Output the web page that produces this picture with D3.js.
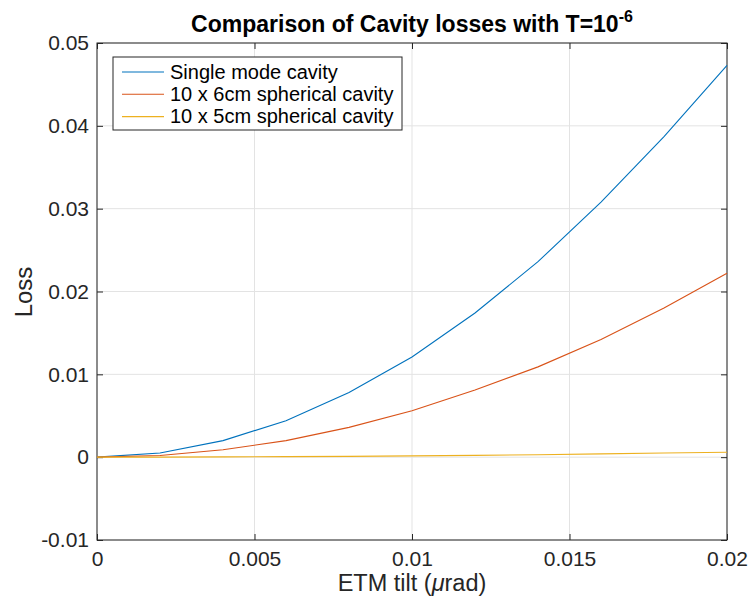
<!DOCTYPE html>
<html>
<head>
<meta charset="utf-8">
<script src="https://cdn.jsdelivr.net/npm/d3@7"></script>
<style>
  html, body { margin: 0; padding: 0; background: #fff; }
  svg text { font-family: "Liberation Sans", Arial, Helvetica, sans-serif; }
</style>
</head>
<body>
<svg id="chart" width="750" height="600"></svg>
<script>
// ETM tilt samples (µrad) and loss per cavity type
const tilt = [0, 0.002, 0.004, 0.006, 0.008, 0.010, 0.012, 0.014, 0.016, 0.018, 0.020];
const singleMode = [0, 0.0005, 0.0020, 0.0044, 0.0078, 0.0121, 0.0174, 0.0236, 0.0308, 0.0387, 0.0473];
const sph6cm = [0, 0.0002, 0.0009, 0.0020, 0.0036, 0.0056, 0.0081, 0.0109, 0.0142, 0.0180, 0.0222];
const sph5cm = [0, 0.00001, 0.00003, 0.00006, 0.0001, 0.00015, 0.00022, 0.0003, 0.0004, 0.0005, 0.0006];

const seriesNames = ["Single mode cavity", "10 x 6cm spherical cavity", "10 x 5cm spherical cavity"];
const seriesColors = ["#0072BD", "#D95319", "#EDB120"];

const xTicks = [0, 0.005, 0.01, 0.015, 0.02];
const xTickLabels = ["0", "0.005", "0.01", "0.015", "0.02"];
const yTicks = [-0.01, 0, 0.01, 0.02, 0.03, 0.04, 0.05];
const yTickLabels = ["-0.01", "0", "0.01", "0.02", "0.03", "0.04", "0.05"];

(function () {
  const svg = d3.select("#chart");
  const pL = 97, pR = 727, pT = 43, pB = 540;

  const x = d3.scaleLinear().domain([0, 0.02]).range([pL, pR]);
  const y = d3.scaleLinear().domain([-0.01, 0.05]).range([pB, pT]);

  const axisColor = "#262626";
  const gridColor = "#e3e3e3";
  const font = "'Liberation Sans', Arial, sans-serif";

  // grid
  const grid = svg.append("g");
  grid.selectAll(".gx").data(xTicks).enter().append("line")
    .attr("x1", d => x(d)).attr("x2", d => x(d))
    .attr("y1", pT).attr("y2", pB)
    .attr("stroke", gridColor).attr("stroke-width", 1);
  grid.selectAll(".gy").data(yTicks).enter().append("line")
    .attr("x1", pL).attr("x2", pR)
    .attr("y1", d => y(d)).attr("y2", d => y(d))
    .attr("stroke", gridColor).attr("stroke-width", 1);

  // axes with inward ticks on all four sides
  const tickLen = 6;
  const xf = d => xTickLabels[xTicks.indexOf(d)];
  const yf = d => yTickLabels[yTicks.indexOf(d)];

  const axB = svg.append("g").attr("transform", `translate(0,${pB})`)
    .call(d3.axisBottom(x).tickValues(xTicks).tickFormat(xf).tickSizeInner(-tickLen).tickSizeOuter(0).tickPadding(10));
  const axT = svg.append("g").attr("transform", `translate(0,${pT})`)
    .call(d3.axisTop(x).tickValues(xTicks).tickFormat("").tickSizeInner(-tickLen).tickSizeOuter(0));
  const axL = svg.append("g").attr("transform", `translate(${pL},0)`)
    .call(d3.axisLeft(y).tickValues(yTicks).tickFormat(yf).tickSizeInner(-tickLen).tickSizeOuter(0).tickPadding(8));
  const axR = svg.append("g").attr("transform", `translate(${pR},0)`)
    .call(d3.axisRight(y).tickValues(yTicks).tickFormat("").tickSizeInner(-tickLen).tickSizeOuter(0));

  [axB, axT, axL, axR].forEach(a => {
    a.select(".domain").remove();
    a.selectAll(".tick line").attr("stroke", axisColor).attr("stroke-width", 1);
    a.selectAll(".tick text").attr("fill", axisColor).attr("font-size", 21)
      .attr("font-family", font);
  });
  // bottom labels: place baseline explicitly
  axB.selectAll(".tick text").attr("dy", null).attr("y", 26);
  axL.selectAll(".tick text").attr("x", -8);

  // box
  svg.append("rect").attr("x", pL).attr("y", pT)
    .attr("width", pR - pL).attr("height", pB - pT)
    .attr("fill", "none").attr("stroke", axisColor).attr("stroke-width", 1);

  // lines
  const allSeries = [singleMode, sph6cm, sph5cm];
  const line = d3.line().x((d, i) => x(tilt[i])).y(d => y(d));
  allSeries.forEach((s, k) => {
    svg.append("path").datum(s)
      .attr("d", line)
      .attr("fill", "none")
      .attr("stroke", seriesColors[k])
      .attr("stroke-width", 1.1);
  });

  // legend
  const lg = svg.append("g");
  lg.append("rect").attr("x", 113).attr("y", 57).attr("width", 289).attr("height", 73)
    .attr("fill", "#fff").attr("stroke", axisColor).attr("stroke-width", 1);
  seriesNames.forEach((n, k) => {
    const yy = 72 + k * 22.3;
    lg.append("line").attr("x1", 122).attr("x2", 164).attr("y1", yy).attr("y2", yy)
      .attr("stroke", seriesColors[k]).attr("stroke-width", 1.1);
    lg.append("text").attr("x", 170).attr("y", yy + 6.5).attr("font-size", 20)
      .attr("fill", "#000").text(n);
  });

  // title
  const title = svg.append("text").attr("x", 412).attr("y", 32)
    .attr("text-anchor", "middle").attr("font-size", 23).attr("font-weight", "bold").attr("fill", "#000");
  title.append("tspan").text("Comparison of Cavity losses with T=10");
  title.append("tspan").attr("dy", -10).attr("font-size", 16).text("-6");

  // axis labels
  const xl = svg.append("text").attr("x", 412).attr("y", 591)
    .attr("text-anchor", "middle").attr("font-size", 23.5).attr("fill", axisColor);
  xl.append("tspan").text("ETM tilt (");
  xl.append("tspan").attr("font-style", "italic").text("\u03bc");
  xl.append("tspan").text("rad)");

  svg.append("text").attr("transform", "translate(32,292) rotate(-90)")
    .attr("text-anchor", "middle").attr("font-size", 24).attr("fill", axisColor).text("Loss");
})();
</script>
</body>
</html>
